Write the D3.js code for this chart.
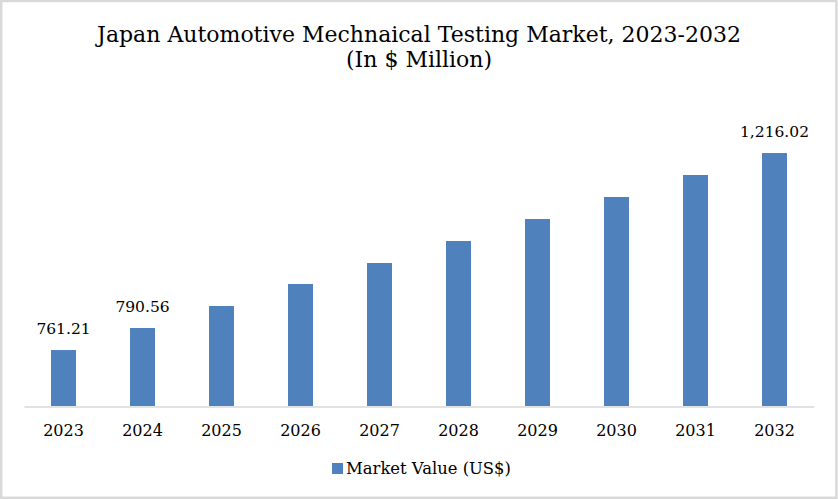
<!DOCTYPE html>
<html>
<head>
<meta charset="utf-8">
<script src="https://cdn.jsdelivr.net/npm/d3@7"></script>
<style>
  body { margin: 0; background: #fff; }
  text { font-family: "DejaVu Serif", "Liberation Serif", serif; fill: #000; }
</style>
</head>
<body>
<div id="chart"></div>
<script>
// chart data
var years = ["2023", "2024", "2025", "2026", "2027", "2028", "2029", "2030", "2031", "2032"];
var marketValue = [761.21, 812.1, 862.9, 913.7, 962.1, 1012.9, 1063.7, 1114.5, 1165.3, 1216.02];
// only three bars carry a data label in the reference
var valueLabels = ["761.21", "790.56", "", "", "", "", "", "", "", "1,216.02"];
var seriesName = "Market Value (US$)";
var titleLines = ["Japan Automotive Mechnaical Testing Market, 2023-2032", "(In $ Million)"];

var W = 838, H = 499;
var margin = {top: 100, right: 24, bottom: 93, left: 24},
    width = W - margin.left - margin.right,
    height = H - margin.top - margin.bottom;

var svg = d3.select("#chart")
  .append("svg")
    .attr("width", W)
    .attr("height", H);

// outer frame
svg.append("rect")
  .attr("x", 1.2).attr("y", 1)
  .attr("width", W - 2.8).attr("height", H - 2.2)
  .attr("fill", "#fff")
  .attr("stroke", "#d9d9d9")
  .attr("stroke-width", 2.5);

// title
svg.append("text")
  .attr("x", W / 2)
  .attr("text-anchor", "middle")
  .style("font-size", "22px")
  .selectAll("tspan")
  .data(titleLines)
  .enter()
  .append("tspan")
    .attr("x", W / 2)
    .attr("y", function(d, i) { return 42 + i * 25; })
    .text(function(d) { return d; });

var g = svg.append("g")
  .attr("transform", "translate(" + margin.left + "," + margin.top + ")");

var x = d3.scaleBand()
  .domain(years)
  .range([0, width])
  .paddingInner(0.684)
  .paddingOuter(0.342);

var y = d3.scaleLinear()
  .domain([632, 1216.1])
  .range([height, height - 253]);

// bars
g.selectAll("rect.bar")
  .data(marketValue)
  .enter()
  .append("rect")
    .attr("class", "bar")
    .attr("x", function(d, i) { return x(years[i]); })
    .attr("y", function(d) { return y(d); })
    .attr("width", x.bandwidth())
    .attr("height", function(d) { return height - y(d); })
    .attr("fill", "#4f81bd");

// x axis
var xAxis = g.append("g")
  .attr("transform", "translate(0," + (height + 0.5) + ")")
  .call(d3.axisBottom(x).tickSize(0).tickPadding(18));
xAxis.select(".domain").attr("stroke", "#d9d9d9").attr("stroke-width", 1.6);
xAxis.selectAll("text")
  .style("font-family", "'DejaVu Serif', serif")
  .style("font-size", "16px")
  .attr("fill", "#000");

// data labels
g.selectAll("text.vlabel")
  .data(marketValue)
  .enter()
  .append("text")
    .attr("class", "vlabel")
    .attr("x", function(d, i) { return x(years[i]) + x.bandwidth() / 2; })
    .attr("y", function(d) { return y(d) - 16; })
    .attr("text-anchor", "middle")
    .style("font-size", "15.5px")
    .text(function(d, i) { return valueLabels[i]; });

// legend
var legend = svg.append("g")
  .attr("transform", "translate(332,463)");
legend.append("rect")
  .attr("width", 11).attr("height", 11)
  .attr("fill", "#4f81bd");
legend.append("text")
  .attr("x", 14).attr("y", 11)
  .style("font-size", "16.4px")
  .text(seriesName);
</script>
</body>
</html>
